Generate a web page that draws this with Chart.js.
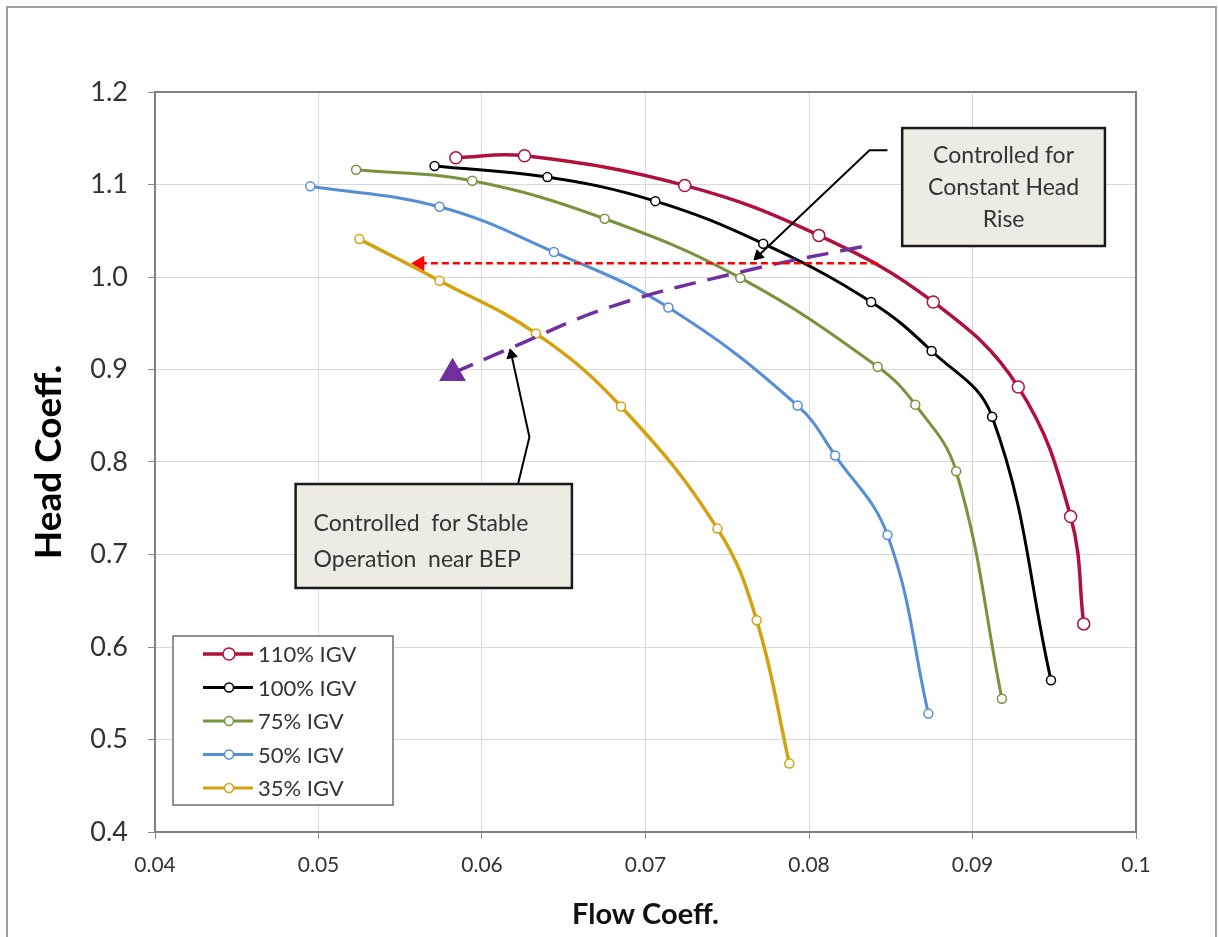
<!DOCTYPE html>
<html>
<head>
<meta charset="utf-8">
<script src="https://cdn.jsdelivr.net/npm/chart.js@4.4.1/dist/chart.umd.min.js"></script>
<style>
    html, body { margin: 0; padding: 0; background: #fff; }
    #wrap { width: 1219px; height: 937px; }
</style>
</head>
<body>
<div id="wrap"><canvas id="headChart" width="1219" height="937"></canvas></div>
<script>
// IGV curves (flow coeff vs head coeff)
const seriesNames = ["110% IGV", "100% IGV", "75% IGV", "50% IGV", "35% IGV"];
const seriesColors = ["#B0113A", "#000000", "#77933C", "#558ED5", "#D4A20E"];

const flow110 = [0.0584, 0.0626, 0.0724, 0.0806, 0.0876, 0.0928, 0.0960, 0.0968];
const head110 = [1.129, 1.131, 1.099, 1.045, 0.973, 0.881, 0.741, 0.625];

const flow100 = [0.0571, 0.0640, 0.0706, 0.0772, 0.0838, 0.0875, 0.0912, 0.0948];
const head100 = [1.120, 1.108, 1.082, 1.036, 0.973, 0.920, 0.849, 0.564];

const flow75 = [0.0523, 0.0594, 0.0675, 0.0758, 0.0842, 0.0865, 0.0890, 0.0918];
const head75 = [1.116, 1.104, 1.063, 0.999, 0.903, 0.862, 0.790, 0.544];

const flow50 = [0.0495, 0.0574, 0.0644, 0.0714, 0.0793, 0.0816, 0.0848, 0.0873];
const head50 = [1.098, 1.076, 1.027, 0.967, 0.861, 0.807, 0.721, 0.528];

const flow35 = [0.0525, 0.0574, 0.0633, 0.0685, 0.0744, 0.0768, 0.0788];
const head35 = [1.041, 0.996, 0.939, 0.860, 0.728, 0.629, 0.474];

// annotation lines
const bepFlow = [0.0582, 0.0616, 0.0679, 0.0762, 0.0833];
const bepHead = [0.896, 0.922, 0.968, 1.007, 1.033];

const constFlow = [0.0562, 0.0844];
const constHead = [1.0148, 1.0148];

const callout1Flow = [0.0848, 0.0837, 0.0769];
const callout1Head = [1.137, 1.137, 1.023];
const callout2Flow = [0.0622, 0.0629, 0.0618];
const callout2Head = [0.776, 0.827, 0.916];

const xTicks = [0.04, 0.1, 0.01];
const yTicks = [0.4, 1.2, 0.1];

const boxTexts = [
    ["Controlled for", "Constant Head", "Rise"],
    ["Controlled  for Stable", "Operation  near BEP"]
];

function pts(xs, ys) {
    return xs.map((x, i) => ({x: x, y: ys[i]}));
}

function curve(i, xs, ys, radius, lw) {
    return {
        label: seriesNames[i],
        data: pts(xs, ys),
        showLine: true,
        borderColor: seriesColors[i],
        borderWidth: lw,
        tension: 0.4,
        pointRadius: radius,
        pointBackgroundColor: "#ffffff",
        pointBorderColor: seriesColors[i],
        pointBorderWidth: 1.5
    };
}

function arrowLine(xs, ys, color, lw, dash, headRot, headSize) {
    return {
        label: "",
        data: pts(xs, ys),
        showLine: true,
        borderColor: color,
        borderWidth: lw,
        borderDash: dash,
        tension: 0,
        pointStyle: "triangle",
        pointRadius: xs.map((v, i) => i === headSize[0] ? headSize[1] : 0),
        rotation: headRot,
        pointBackgroundColor: color,
        pointBorderColor: color,
        pointBorderWidth: 1
    };
}

const bepLine = {
    label: "",
    data: pts(bepFlow, bepHead),
    showLine: true,
    borderColor: "#7030A0",
    borderWidth: 3.5,
    borderDash: [22, 12],
    tension: 0.4,
    pointStyle: "triangle",
    pointRadius: bepFlow.map((v, i) => i === 0 ? 12 : 0),
    rotation: 0,
    pointBackgroundColor: "#7030A0",
    pointBorderColor: "#7030A0"
};

const overlay = {
    id: "overlay",
    beforeDraw(chart) {
        const c = chart.ctx;
        c.save();
        c.fillStyle = "#fff";
        c.fillRect(0, 0, chart.width, chart.height);
        c.strokeStyle = "#a0a0a0";
        c.lineWidth = 2;
        c.beginPath();
        c.moveTo(7, chart.height);
        c.lineTo(7, 7);
        c.lineTo(1216, 7);
        c.lineTo(1216, chart.height);
        c.stroke();
        c.restore();
    },
    afterDatasetsDraw(chart) {
        const c = chart.ctx;
        const a = chart.chartArea;
        const xs = chart.scales.x, ys = chart.scales.y;
        c.save();
        c.strokeStyle = "#808080";
        c.lineWidth = 2;
        c.strokeRect(a.left, a.top, a.right - a.left, a.bottom - a.top);

        // callout boxes
        const boxes = [[0.0857, 1.161, 0.0981, 1.0335, "center"], [0.0486, 0.7762, 0.0655, 0.6638, "left"]];
        boxes.forEach((b, k) => {
            const x0 = xs.getPixelForValue(b[0]), y0 = ys.getPixelForValue(b[1]);
            const x1 = xs.getPixelForValue(b[2]), y1 = ys.getPixelForValue(b[3]);
            c.fillStyle = "#EDECE3";
            c.fillRect(x0, y0, x1 - x0, y1 - y0);
            c.strokeStyle = "#1a1a1a";
            c.lineWidth = 2.5;
            c.strokeRect(x0, y0, x1 - x0, y1 - y0);
            c.fillStyle = "#333";
            c.font = "23px Lato";
            c.textBaseline = "middle";
            const lines = boxTexts[k];
            if (b[4] === "center") {
                c.textAlign = "center";
                lines.forEach((t, j) => c.fillText(t, (x0 + x1) / 2, y0 + 28 + j * 32));
            } else {
                c.textAlign = "left";
                lines.forEach((t, j) => c.fillText(t, x0 + 18, y0 + 40 + j * 36));
            }
        });

        // legend
        const lx = a.left + 18, ly = a.bottom - 196;
        c.fillStyle = "#fff";
        c.fillRect(lx, ly, 220, 169);
        c.strokeStyle = "#6e6e6e";
        c.lineWidth = 1.5;
        c.strokeRect(lx, ly, 220, 169);
        seriesNames.forEach((name, i) => {
            const yy = ly + 18 + i * 33.5;
            c.strokeStyle = seriesColors[i];
            c.lineWidth = i === 0 ? 3.5 : 3;
            c.beginPath();
            c.moveTo(lx + 30, yy);
            c.lineTo(lx + 80, yy);
            c.stroke();
            c.fillStyle = "#fff";
            c.lineWidth = 1.5;
            c.beginPath();
            c.arc(lx + 56, yy, i === 0 ? 6 : 4.5, 0, Math.PI * 2);
            c.fill();
            c.stroke();
            c.fillStyle = "#333";
            c.font = "22px Lato";
            c.textAlign = "left";
            c.textBaseline = "middle";
            c.fillText(name, lx + 85, yy + 1);
        });
        c.restore();
    }
};

const ctx = document.getElementById("headChart");

new Chart(ctx, {
    type: "scatter",
    data: {
        datasets: [
            arrowLine(callout1Flow, callout1Head, "#000", 2, [], 226, [2, 6]),
            arrowLine(callout2Flow, callout2Head, "#000", 2, [], -13, [2, 6]),
            arrowLine(constFlow, constHead, "#FF0000", 2.5, [7, 4], -90, [0, 8]),
            bepLine,
            curve(0, flow110, head110, 6, 3.5),
            curve(1, flow100, head100, 4.5, 3),
            curve(2, flow75, head75, 4.5, 3),
            curve(3, flow50, head50, 4.5, 3),
            curve(4, flow35, head35, 4.5, 3.5)
        ]
    },
    options: {
        responsive: false,
        animation: false,
        layout: {padding: {left: 20, top: 92, right: 83, bottom: 0}},
        plugins: {
            legend: {display: false},
            tooltip: {enabled: false}
        },
        scales: {
            x: {
                type: "linear",
                min: xTicks[0], max: xTicks[1],
                afterFit: function (s) { s.height = 105; },
                ticks: {
                    stepSize: xTicks[2],
                    padding: 14,
                    color: "#333",
                    font: {family: "Lato", size: 21},
                    callback: v => parseFloat(v.toFixed(2)).toString()
                },
                grid: {color: "#D9D9D9", tickColor: "#8c8c8c", tickLength: 7},
                border: {color: "#8c8c8c", width: 1.5},
                title: {
                    display: true, text: "Flow Coeff.", color: "#111",
                    font: {family: "Lato", size: 29, weight: "bold"},
                    padding: {top: 0, bottom: 5}
                }
            },
            y: {
                type: "linear",
                min: yTicks[0], max: yTicks[1],
                afterFit: function (s) { s.width = 135; },
                ticks: {
                    stepSize: yTicks[2],
                    padding: 20,
                    color: "#333",
                    font: {family: "Lato", size: 27},
                    callback: v => v.toFixed(1)
                },
                grid: {color: "#D9D9D9", tickColor: "#8c8c8c", tickLength: 7},
                border: {color: "#8c8c8c", width: 1.5},
                title: {
                    display: true, text: "Head Coeff.", color: "#000",
                    font: {family: "Lato", size: 37, weight: "bold"},
                    padding: {top: 7, bottom: 0}
                }
            }
        }
    },
    plugins: [overlay]
});
</script>
</body>
</html>
